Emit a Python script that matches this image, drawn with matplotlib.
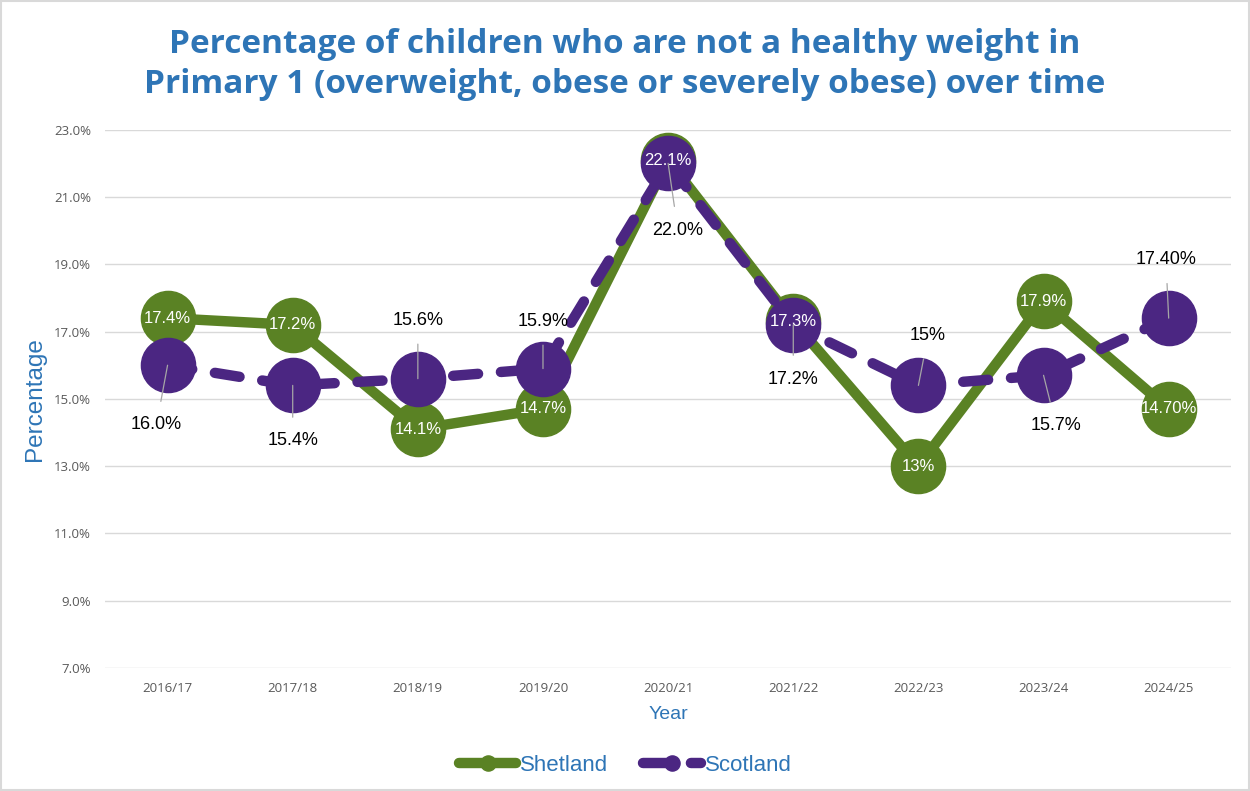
import matplotlib.pyplot as plt

# data
years = ['2016/17', '2017/18', '2018/19', '2019/20', '2020/21', '2021/22', '2022/23', '2023/24', '2024/25']
shetland = [17.4, 17.2, 14.1, 14.7, 22.1, 17.3, 13.0, 17.9, 14.7]
scotland = [16.0, 15.4, 15.6, 15.9, 22.0, 17.2, 15.4, 15.7, 17.4]
shetland_labels = ['17.4%', '17.2%', '14.1%', '14.7%', '22.1%', '17.3%', '13%', '17.9%', '14.70%']
scotland_labels = ['16.0%', '15.4%', '15.6%', '15.9%', '22.0%', '17.2%', '15%', '15.7%', '17.40%']
yticks = [7, 9, 11, 13, 15, 17, 19, 21, 23]

green = '#5A8224'
purple = '#4B2682'
blue = '#2E75B6'

# label offsets (points) for the Scotland callouts
scot_off = [(-8, -43), (0, -40), (0, 42), (0, 34), (7, -48), (0, -39), (7, 36), (9, -36), (-2, 42)]

fig = plt.figure(figsize=(12.5, 7.91), dpi=100)
ax = fig.add_axes([0.084, 0.1555, 0.901, 0.6805])

x = list(range(len(years)))
ax.plot(x, shetland, color=green, lw=7.5, marker='o', ms=39, zorder=3,
        solid_capstyle='round', label='Shetland')
ax.plot(x, scotland, color=purple, lw=7.5, ls=(0, (2.4, 2.2)), marker='o', ms=39,
        zorder=4, dash_capstyle='round', label='Scotland')

for i, (v, t) in enumerate(zip(shetland, shetland_labels)):
    ax.text(i, v, t, color='white', ha='center', va='center', fontsize=12,
            family='Liberation Sans', zorder=6)

for i, (v, t) in enumerate(zip(scotland, scotland_labels)):
    dx, dy = scot_off[i]
    ax.annotate(t, xy=(i, v), xytext=(dx, dy), textcoords='offset points',
                ha='center', va='center', fontsize=13, family='Liberation Sans',
                color='black', zorder=7,
                arrowprops=dict(arrowstyle='-', color='#a6a6a6', lw=0.9,
                                shrinkA=9, shrinkB=0))

ax.set_xlim(-0.5, len(years) - 0.5)
ax.set_ylim(7, 23)
ax.set_xticks(x)
ax.set_xticklabels(years)
ax.set_yticks(yticks)
ax.set_yticklabels([f'{t:.1f}%' for t in yticks])
ax.tick_params(length=0, labelsize=9.5, labelcolor='#595959', pad=10)
for lab in ax.get_xticklabels() + ax.get_yticklabels():
    lab.set_family('Open Sans')
ax.grid(axis='y', color='#d9d9d9', lw=1)
ax.set_axisbelow(True)
for s in ax.spines.values():
    s.set_visible(False)

ax.set_xlabel('Year', color=blue, fontsize=14, family='Liberation Sans', labelpad=8)
ax.set_ylabel('Percentage', color=blue, fontsize=17.5, family='Liberation Sans', labelpad=6)

fig.suptitle('Percentage of children who are not a healthy weight in\n'
             'Primary 1 (overweight, obese or severely obese) over time',
             color=blue, fontsize=24, fontweight='bold', family='Open Sans',
             y=0.965, linespacing=1.3)

leg = fig.legend(loc='lower center', bbox_to_anchor=(0.5, -0.006), ncol=2, frameon=False,
                 markerscale=0.28, handlelength=2.6, columnspacing=1.6,
                 handletextpad=0.15, prop={'family': 'Liberation Sans', 'size': 16})
for t in leg.get_texts():
    t.set_color(blue)

fig.patches.append(plt.Rectangle((0.001, 0.001), 0.998, 0.998, transform=fig.transFigure,
                                 fill=False, edgecolor='#d9d9d9', lw=1.5))

fig.savefig('out.png', dpi=100)
